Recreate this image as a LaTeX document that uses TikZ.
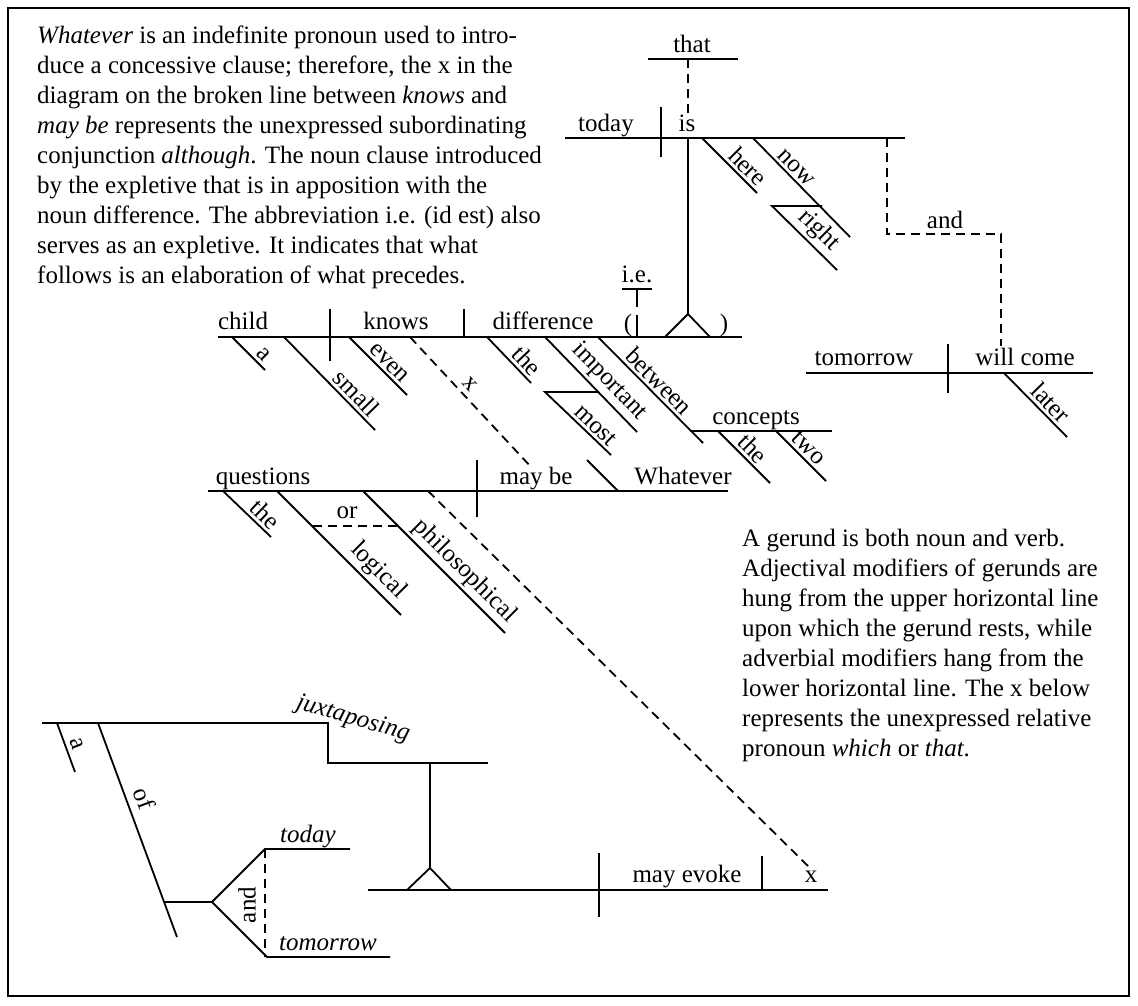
\documentclass[tikz,border=0pt]{standalone}
\usepackage{fontspec}
\setmainfont{Liberation Serif}
\begin{document}
\begin{tikzpicture}[x=1pt,y=-1pt,
  every node/.style={font=\fontsize{25}{30}\selectfont},
  ln/.style={line width=1.8pt},
  dsh/.style={line width=1.8pt,dash pattern=on 9pt off 6pt},
  wd/.style={anchor=base,inner sep=0pt},
  lab/.style={sloped,above,inner sep=3pt}]
\useasboundingbox (0,0) rectangle (1138,1005);
\draw[line width=1.8pt] (8,8) rectangle (1129,996);

% paragraphs
\node[anchor=north west,align=left,inner sep=0pt] (p1) at (37,26) {\textit{Whatever} is an indefinite pronoun used to intro-\\duce a concessive clause; therefore, the x in the\\diagram on the broken line between \textit{knows} and\\\textit{may be} represents the unexpressed subordinating\\conjunction \textit{although}. The noun clause introduced\\by the expletive that is in apposition with the\\noun difference. The abbreviation i.e. (id est) also\\serves as an expletive. It indicates that what\\follows is an elaboration of what precedes.};
\node[anchor=north west,align=left,inner sep=0pt] (p2) at (742,529) {A gerund is both noun and verb.\\Adjectival modifiers of gerunds are\\hung from the upper horizontal line\\upon which the gerund rests, while\\adverbial modifiers hang from the\\lower horizontal line. The x below\\represents the unexpressed relative\\pronoun \textit{which} or \textit{that}.};

% top clause: today is here now right
\draw[ln] (565,138) -- (905,138);
\node[wd] (wtoday) at (606,131) {today};
\node[wd] (wis) at (687,131) {is};
\draw[ln] (661,107) -- (661,157);
\draw[ln] (648,59) -- (738,59);
\node[wd] (wthat) at (692,52) {that};
\draw[dsh] (688,59) -- (688,113);
\draw[ln] (702,138) -- node[lab,pos=.68] (where) {here} (757,193);
\draw[ln] (753,138) -- node[lab,pos=.37] (wnow) {now} (850,237);
\draw[ln] (822,206) -- (772,206) -- node[lab,pos=.55] (wright) {right} (837,270);
\draw[ln] (688,138) -- (688,314);
\draw[ln] (665,337) -- (688,314) -- (710,337);
\draw[dsh] (887,138) -- (887,234) -- (1001,234) -- (1001,346);
\node[wd] (wand) at (945,228) {and};

% tomorrow will come later
\draw[ln] (806,373) -- (1093,373);
\draw[ln] (948,344) -- (948,393);
\node[wd] (wtomorrow) at (864,365) {tomorrow};
\node[wd] (wwill) at (1025,365) {will come};
\draw[ln] (1004,373) -- node[lab,pos=.6] (wlater) {later} (1067,437);

% child knows difference
\draw[ln] (218,337) -- (742,337);
\node[wd] (wchild) at (243,329) {child};
\draw[ln] (330,309) -- (330,361);
\node[wd] (wknows) at (396,329) {knows};
\draw[ln] (464,309) -- (464,337);
\node[wd] (wdiff) at (543,329) {difference};
\node[wd] (lpar) at (628,331) {(};
\node[wd] (rpar) at (724,331) {)};
\node[wd] (wie) at (637,282) {i.e.};
\draw[ln] (622,289) -- (652,289);
\draw[ln] (637,289) -- (637,307);
\draw[ln] (637,315) -- (637,337);
\draw[ln] (232,337) -- node[lab,pos=.75] (wa) {a} (265,370);
\draw[ln] (284,337) -- node[lab,pos=.7] (wsmall) {small} (375,430);
\draw[ln] (349,337) -- node[lab,pos=.57] (weven) {even} (407,395);
\draw[dsh] (410,337) -- node[lab,pos=.42,inner sep=5pt] (wx1) {x} (532,468);
\draw[ln] (487,337) -- node[lab,pos=.7] (wthe1) {the} (531,383);
\draw[ln] (545,337) -- node[lab,pos=.58] (wimp) {important} (637,432);
\draw[ln] (598,392) -- (545,392) -- node[lab,pos=.66] (wmost) {most} (611,455);
\draw[ln] (598,337) -- node[lab,pos=.5] (wbetween) {between} (703,443);
\draw[ln] (690,431) -- (832,431);
\node[wd] (wconcepts) at (756,424) {concepts};
\draw[ln] (718,431) -- node[lab,pos=.5] (wthe2) {the} (770,483);
\draw[ln] (776,431) -- node[lab,pos=.5] (wtwo) {two} (826,481);

% questions may be whatever
\draw[ln] (208,491) -- (728,491);
\node[wd] (wquestions) at (263,484) {questions};
\draw[ln] (477,460) -- (477,517);
\node[wd] (wmaybe) at (536,484) {may be};
\draw[ln] (587,460) -- (618,491);
\node[wd] (wwhatever) at (683,484) {Whatever};
\draw[ln] (223,491) -- node[lab,pos=.7] (wthe3) {the} (271,537);
\draw[ln] (277,491) -- node[lab,pos=.73] (wlogical) {logical} (401,615);
\draw[ln] (363,491) -- node[lab,pos=.64] (wphil) {philosophical} (505,633);
\draw[dsh] (313,526) -- (399,526);
\node[wd] (wor) at (347,518) {or};
\draw[dsh] (428,491) -- (808,866);

% gerund
\draw[ln] (42,723) -- (328,723) -- (328,763) -- (488,763);
\node[rotate=-16] (wjux) at (353,719) {\textit{juxtaposing}};
\draw[ln] (57,723) -- node[lab,pos=.5,inner sep=5pt] (wa2) {a} (75,772);
\draw[ln] (98,723) -- node[lab,pos=.38,inner sep=8pt] (wof) {of} (177,937);
\draw[ln] (165,902) -- (212,902);
\draw[ln] (350,849) -- (265,849) -- (212,902) -- (267,957) -- (390,957);
\draw[dsh] (265,849) -- (265,957);
\node[rotate=90] (wand2) at (247,905) {and};
\node[wd] (wtoday2) at (308,842) {\textit{today}};
\node[wd] (wtomorrow2) at (328,950) {\textit{tomorrow}};
\draw[ln] (430,763) -- (430,868);
\draw[ln] (407,890) -- (430,868) -- (451,890);
\draw[ln] (368,890) -- (828,890);
\draw[ln] (599,853) -- (599,917);
\draw[ln] (762,856) -- (762,890);
\node[wd] (wevoke) at (687,882) {may evoke};
\node[wd] (wx2) at (811,882) {x};
\end{tikzpicture}
\end{document}
